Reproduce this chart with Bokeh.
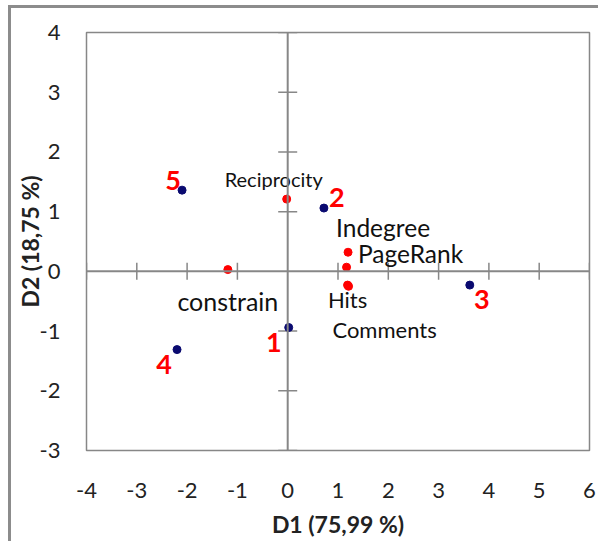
from bokeh.plotting import figure
from bokeh.models import ColumnDataSource, Span, FixedTicker
from bokeh.core.properties import value
from bokeh.embed import file_html
from bokeh.resources import INLINE

# Variables (red)
var_names = ["Reciprocity", "Indegree", "PageRank", "Hits", "Comments", "constrain"]
var_x = [-0.02, 1.20, 1.17, 1.19, 1.21, -1.19]
var_y = [1.21, 0.32, 0.07, -0.23, -0.25, 0.03]

# Observations (blue)
obs_names = ["1", "2", "3", "4", "5"]
obs_x = [0.02, 0.72, 3.62, -2.20, -2.10]
obs_y = [-0.94, 1.06, -0.23, -1.31, 1.36]

x_ticks = [-4, -3, -2, -1, 0, 1, 2, 3, 4, 5, 6]
y_ticks = [-3, -2, -1, 0, 1, 2, 3, 4]

# label offsets (screen px) and sizes - styling only
var_dx = [-13, 35, 64, 0, 36, 0]
var_dy = [-20, -25, -14, 14, 43, 31]
var_fs = ["20px", "24.5px", "24.5px", "22px", "22px", "25px"]
obs_dx = [-15, 13, 12, -13, -9]
obs_dy = [15, -11, 14, 15, -10]

FONT = "Lato"
GRAY = "#878787"
EDGE = "#8c8c8c"

p = figure(width=598, height=541, output_backend="svg", toolbar_location=None,
           x_range=(x_ticks[0], x_ticks[-1]), y_range=(y_ticks[0], y_ticks[-1]),
           min_border_left=86, min_border_top=32, min_border_right=9, min_border_bottom=91)
p.grid.visible = False
p.outline_line_color = GRAY
p.outline_line_width = 1.5
p.background_fill_color = "white"
p.border_fill_color = None
# outer chart border (top and left edges visible) drawn behind the transparent canvas
p.styles = {
    "background-color": "white",
    "background-image": f"linear-gradient({EDGE}, {EDGE}), linear-gradient({EDGE}, {EDGE})",
    "background-size": "3px 100%, 100% 3px",
    "background-position": "8px 5px, 8px 5px",
    "background-repeat": "no-repeat",
}

for ax in (p.xaxis[0], p.yaxis[0]):
    ax.axis_line_color = None
    ax.major_tick_line_color = None
    ax.minor_tick_line_color = None
    ax.major_tick_in = 0
    ax.major_tick_out = 0
    ax.minor_tick_in = 0
    ax.minor_tick_out = 0
    ax.major_label_text_font = FONT
    ax.major_label_text_font_size = "22px"
    ax.major_label_text_color = "#222222"
    ax.axis_label_text_font = FONT
    ax.axis_label_text_font_size = "23px"
    ax.axis_label_text_font_style = "bold"
    ax.axis_label_text_color = "#222222"

p.xaxis.ticker = FixedTicker(ticks=x_ticks)
p.yaxis.ticker = FixedTicker(ticks=y_ticks)
p.xaxis.major_label_overrides = {t: str(t) for t in x_ticks}
p.yaxis.major_label_overrides = {t: str(t) for t in y_ticks}
p.xaxis.axis_label = "D1 (75,99 %)"
p.yaxis.axis_label = "D2 (18,75 %)"
p.xaxis.major_label_standoff = 32
p.yaxis.major_label_standoff = 26
p.xaxis.axis_label_standoff = 9
p.yaxis.axis_label_standoff = -7

# crossing axes at zero
p.add_layout(Span(location=0, dimension="width", line_color=GRAY, line_width=2))
p.add_layout(Span(location=0, dimension="height", line_color=GRAY, line_width=2))

# tick marks on the zero axes
xt = [t for t in x_ticks if t != 0]
yt = [t for t in y_ticks if t != 0]
p.scatter(x=xt, y=[0] * len(xt), marker="dash", size=17, angle=1.5708,
          line_color=GRAY, line_width=1.5)
p.scatter(x=[0] * len(yt), y=yt, marker="dash", size=19,
          line_color=GRAY, line_width=1.5)

var_src = ColumnDataSource(dict(x=var_x, y=var_y, t=var_names, dx=var_dx, dy=var_dy, fs=var_fs))
obs_src = ColumnDataSource(dict(x=obs_x, y=obs_y, t=obs_names, dx=obs_dx, dy=obs_dy))

p.scatter("x", "y", source=var_src, size=8, color="#ff0000")
p.scatter("x", "y", source=obs_src, size=8, color="#0a0a70")

p.text("x", "y", text="t", source=var_src, x_offset="dx", y_offset="dy",
       text_font=value(FONT), text_font_size="fs", text_color="#111111",
       text_align="center", text_baseline="middle")
p.text("x", "y", text="t", source=obs_src, x_offset="dx", y_offset="dy",
       text_font=value(FONT), text_font_size="27px", text_font_style="bold",
       text_color="#ff0000", text_align="center", text_baseline="middle")

open("out.html", "w").write(file_html(p, INLINE))
